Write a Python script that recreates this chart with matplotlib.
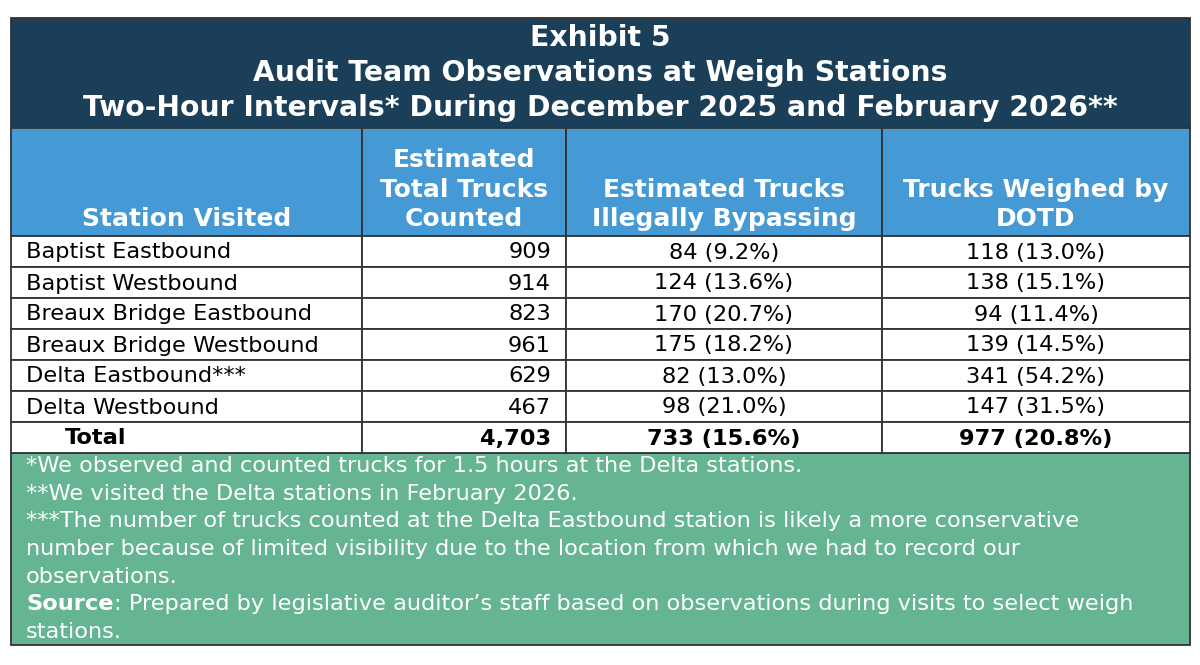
import matplotlib
matplotlib.use("Agg")
import matplotlib.pyplot as plt
from matplotlib.patches import Rectangle

# ---- data ----
stations = ["Baptist Eastbound", "Baptist Westbound", "Breaux Bridge Eastbound",
            "Breaux Bridge Westbound", "Delta Eastbound***", "Delta Westbound"]
total_counted = [909, 914, 823, 961, 629, 467]
bypassing = [84, 124, 170, 175, 82, 98]
bypassing_pct = [9.2, 13.6, 20.7, 18.2, 13.0, 21.0]
weighed = [118, 138, 94, 139, 341, 147]
weighed_pct = [13.0, 15.1, 11.4, 14.5, 54.2, 31.5]
total_row = ["Total", "4,703", "733 (15.6%)", "977 (20.8%)"]

title_lines = ["Exhibit 5",
               "Audit Team Observations at Weigh Stations",
               "Two-Hour Intervals* During December 2025 and February 2026**"]
headers = ["Station Visited", "Estimated\nTotal Trucks\nCounted",
           "Estimated Trucks\nIllegally Bypassing", "Trucks Weighed by\nDOTD"]
notes = ["*We observed and counted trucks for 1.5 hours at the Delta stations.",
         "**We visited the Delta stations in February 2026.",
         "***The number of trucks counted at the Delta Eastbound station is likely a more conservative",
         "number because of limited visibility due to the location from which we had to record our",
         "observations."]
source_lbl = "Source"
source_txt = [": Prepared by legislative auditor\u2019s staff based on observations during visits to select weigh",
              "stations."]

NAVY = "#1b3f59"
BLUE = "#4599d4"
GREEN = "#65b492"
EDGE = "#333333"

# layout in pixels
L, R = 11, 1190
cols = [L, 362, 566, 882, R]
y_title, y_head, y_rows = 18, 128, 236
row_h = 31
y_foot = y_rows + row_h * (len(stations) + 1)
y_bot = 645

fig = plt.figure(figsize=(12, 6.65), dpi=100)
ax = fig.add_axes([0, 0, 1, 1])
ax.set_xlim(0, 1200)
ax.set_ylim(665, 0)
ax.axis("off")

def box(x0, y0, x1, y1, fc):
    ax.add_patch(Rectangle((x0, y0), x1 - x0, y1 - y0, facecolor=fc,
                           edgecolor=EDGE, linewidth=1.3))

box(L, y_title, R, y_head, NAVY)
box(L, y_foot, R, y_bot, GREEN)
for i in range(4):
    box(cols[i], y_head, cols[i + 1], y_rows, BLUE)
    for r in range(len(stations) + 1):
        box(cols[i], y_rows + r * row_h, cols[i + 1], y_rows + (r + 1) * row_h, "white")

fs_title = 20.3
for i, t in enumerate(title_lines):
    ax.text((L + R) / 2, 38 + i * 35, t, color="white", fontsize=fs_title,
            fontweight="bold", ha="center", va="center")

fs_head = 18
for i, h in enumerate(headers):
    ax.text((cols[i] + cols[i + 1]) / 2, y_rows - 5, h, color="white", fontsize=fs_head,
            fontweight="bold", ha="center", va="bottom", linespacing=1.28)

fs = 16.2
for r, name in enumerate(stations):
    yc = y_rows + r * row_h + row_h / 2 + 1
    ax.text(26, yc, name, fontsize=fs, ha="left", va="center")
    ax.text(cols[2] - 15, yc, f"{total_counted[r]:,}", fontsize=fs, ha="right", va="center")
    ax.text((cols[2] + cols[3]) / 2, yc, f"{bypassing[r]} ({bypassing_pct[r]:.1f}%)",
            fontsize=fs, ha="center", va="center")
    ax.text((cols[3] + cols[4]) / 2, yc, f"{weighed[r]} ({weighed_pct[r]:.1f}%)",
            fontsize=fs, ha="center", va="center")

yc = y_rows + len(stations) * row_h + row_h / 2 + 1
ax.text(65, yc, total_row[0], fontsize=fs, fontweight="bold", ha="left", va="center")
ax.text(cols[2] - 15, yc, total_row[1], fontsize=fs, fontweight="bold", ha="right", va="center")
ax.text((cols[2] + cols[3]) / 2, yc, total_row[2], fontsize=fs, fontweight="bold",
        ha="center", va="center")
ax.text((cols[3] + cols[4]) / 2, yc, total_row[3], fontsize=fs, fontweight="bold",
        ha="center", va="center")

# footnotes
ny = 466
step = 27.7
for i, t in enumerate(notes):
    ax.text(26, ny + i * step, t, color="white", fontsize=fs, ha="left", va="center")
sy = ny + len(notes) * step
lbl = ax.text(26, sy, source_lbl, color="white", fontsize=fs, fontweight="bold",
              ha="left", va="center")
fig.canvas.draw()
bb = lbl.get_window_extent(renderer=fig.canvas.get_renderer())
x_after = 26 + bb.width * 1200 / fig.bbox.width
ax.text(x_after, sy, source_txt[0], color="white", fontsize=fs, ha="left", va="center")
ax.text(26, sy + step, source_txt[1], color="white", fontsize=fs, ha="left", va="center")

fig.savefig("out.png", dpi=100, facecolor="white")
